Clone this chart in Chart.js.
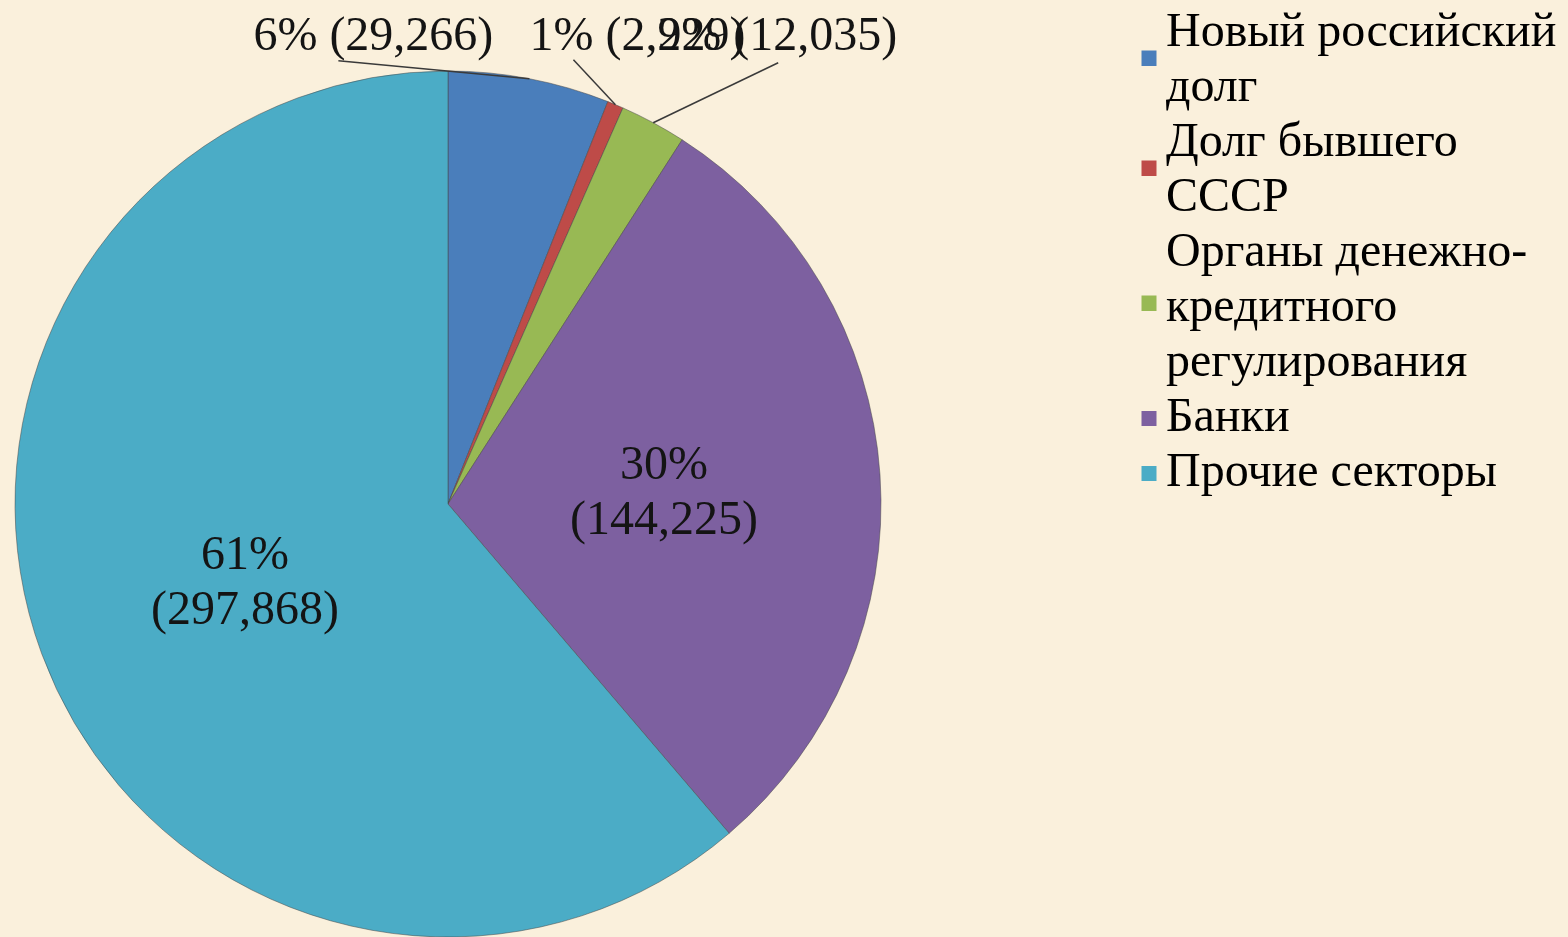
<!DOCTYPE html>
<html>
<head>
<meta charset="utf-8">
<script src="https://cdn.jsdelivr.net/npm/chart.js@4.4.1/dist/chart.umd.min.js"></script>
<style>
  html, body { margin: 0; padding: 0; background: #FAF0DC; overflow: hidden; }
  #wrap { width: 1568px; height: 937px; position: relative; }
  canvas { display: block; }
</style>
</head>
<body>
<div id="wrap"><canvas id="chart" width="1568" height="937"></canvas></div>
<script>
// ---- data ----
const categories = ['Новый российский долг', 'Долг бывшего СССР', 'Органы денежно-кредитного регулирования', 'Банки', 'Прочие секторы'];
const legendLines = [['Новый российский', 'долг'], ['Долг бывшего', 'СССР'], ['Органы денежно-', 'кредитного', 'регулирования'], ['Банки'], ['Прочие секторы']];
const values = [29266, 2929, 12035, 144225, 297868];
const colors = ['#4A7EBB', '#BE4B48', '#98B954', '#7D60A0', '#4BACC6'];

// ---- layout / style ----
const PIE = { cx: 448, cy: 504, r: 433 };
const LEGEND = { left: 1141, top: 9, fontSize: 48, lineHeight: 55 / 48 };
const LABEL_FONT = '48px "Liberation Serif", "Times New Roman", serif';
const TEXT_COLOR = '#141414';
const TEXT_DY = 5;
// outside labels: text centre offset from the arc's outer midpoint, leader end offset from text centre
const labelPlacement = [
  { inside: false, dx: -156, dy: -44, lx: -35, ly: 21 },
  { inside: false, dx: 22, dy: -70, lx: -64, ly: 20 },
  { inside: false, dx: 124, dy: -88, lx: 1, ly: 23 },
  { inside: true, r: 0.5 },
  { inside: true, r: 0.5 }
];

function legendSwatch(color, nLines) {
  const lh = LEGEND.fontSize * LEGEND.lineHeight;
  const off = Math.round((nLines - 1) * lh * 0.45);
  const size = 15;
  const c = document.createElement('canvas');
  c.width = 34;
  c.height = 2 * off + size;
  const g = c.getContext('2d');
  g.fillStyle = color;
  g.fillRect(17, 2 * off, size, size);
  return c;
}

const bgPlugin = {
  id: 'bg',
  beforeDraw(chart) {
    const ctx = chart.ctx;
    ctx.save();
    ctx.fillStyle = '#FAF0DC';
    ctx.fillRect(0, 0, chart.width, chart.height);
    ctx.restore();
  }
};

const placePlugin = {
  id: 'place',
  afterLayout(chart) {
    const a = chart.chartArea;
    a.left = PIE.cx - PIE.r; a.right = PIE.cx + PIE.r;
    a.top = PIE.cy - PIE.r; a.bottom = PIE.cy + PIE.r;
    a.width = 2 * PIE.r; a.height = 2 * PIE.r;
    const lg = chart.legend;
    if (lg) {
      lg.left = LEGEND.left; lg.right = chart.width;
      lg.top = LEGEND.top; lg.bottom = chart.height;
      lg.width = lg.right - lg.left; lg.height = lg.bottom - lg.top;
    }
  }
};

const labelPlugin = {
  id: 'sliceLabels',
  afterDatasetsDraw(chart) {
    const ctx = chart.ctx;
    const meta = chart.getDatasetMeta(0);
    const total = values.reduce((a, b) => a + b, 0);
    const lh = 55;
    ctx.save();
    ctx.font = LABEL_FONT;
    ctx.fillStyle = TEXT_COLOR;
    ctx.strokeStyle = '#3A3A3A';
    ctx.lineWidth = 1.5;
    ctx.textAlign = 'center';
    ctx.textBaseline = 'middle';
    meta.data.forEach((arc, i) => {
      const p = arc.getProps(['x', 'y', 'startAngle', 'endAngle', 'outerRadius'], true);
      const mid = (p.startAngle + p.endAngle) / 2;
      const pct = Math.round(values[i] / total * 100) + '%';
      const num = '(' + values[i].toLocaleString('en-US') + ')';
      const pl = labelPlacement[i];
      if (pl.inside) {
        const r = p.outerRadius * pl.r;
        const cx = p.x + Math.cos(mid) * r;
        const cy = p.y + Math.sin(mid) * r + TEXT_DY;
        ctx.fillText(pct, cx, cy - lh / 2);
        ctx.fillText(num, cx, cy + lh / 2);
      } else {
        const ex = p.x + Math.cos(mid) * p.outerRadius;
        const ey = p.y + Math.sin(mid) * p.outerRadius;
        const tx = ex + pl.dx, ty = ey + pl.dy;
        ctx.beginPath();
        ctx.moveTo(ex, ey);
        ctx.lineTo(tx + pl.lx, ty + pl.ly + TEXT_DY);
        ctx.stroke();
        ctx.fillText(pct + ' ' + num, tx, ty + TEXT_DY - 2);
      }
    });
    ctx.restore();
  }
};

new Chart(document.getElementById('chart'), {
  type: 'pie',
  data: {
    labels: categories,
    datasets: [{
      data: values,
      backgroundColor: colors,
      borderColor: 'rgba(70,70,70,0.5)',
      borderWidth: 1,
      hoverOffset: 0,
      radius: PIE.r
    }]
  },
  options: {
    responsive: false,
    animation: false,
    events: [],
    layout: { padding: 0 },
    plugins: {
      tooltip: { enabled: false },
      legend: {
        display: true,
        position: 'right',
        align: 'start',
        labels: {
          usePointStyle: true,
          pointStyleWidth: 1,
          padding: 0,
          color: TEXT_COLOR,
          font: { family: '"Liberation Serif", "Times New Roman", serif', size: LEGEND.fontSize, lineHeight: LEGEND.lineHeight },
          generateLabels(chart) {
            return legendLines.map((lines, i) => ({
              text: lines,
              fillStyle: colors[i],
              strokeStyle: colors[i],
              lineWidth: 0,
              pointStyle: legendSwatch(colors[i], lines.length),
              hidden: false,
              index: i
            }));
          }
        }
      }
    }
  },
  plugins: [bgPlugin, placePlugin, labelPlugin]
});
</script>
</body>
</html>
